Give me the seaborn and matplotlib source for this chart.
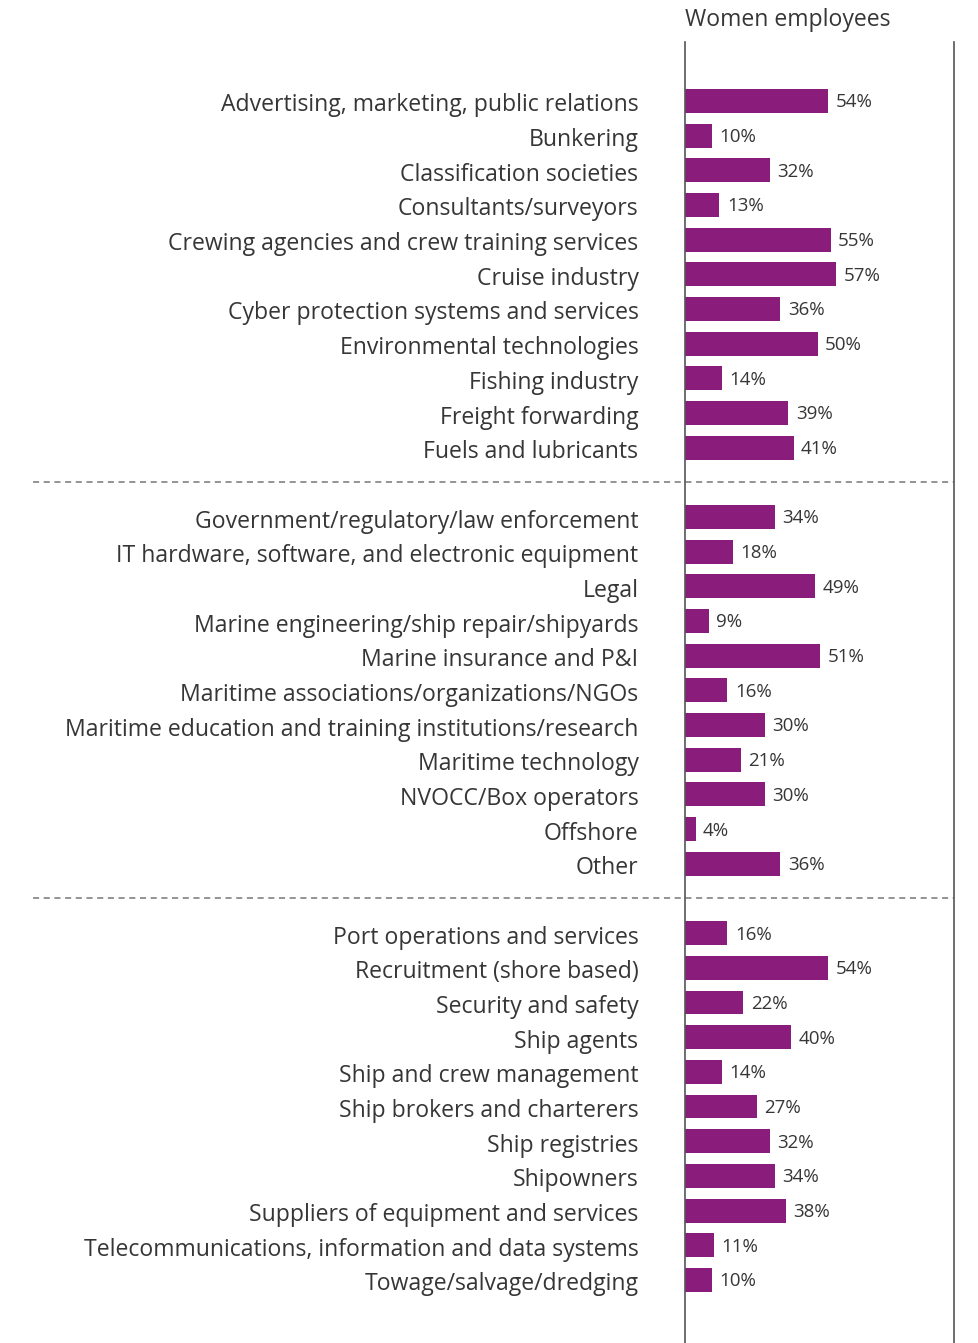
import matplotlib
matplotlib.use("Agg")
import matplotlib.pyplot as plt
import matplotlib.transforms as mtransforms
import seaborn as sns
import numpy as np
import pandas as pd

group_a = [
    "Advertising, marketing, public relations",
    "Bunkering",
    "Classification societies",
    "Consultants/surveyors",
    "Crewing agencies and crew training services",
    "Cruise industry",
    "Cyber protection systems and services",
    "Environmental technologies",
    "Fishing industry",
    "Freight forwarding",
    "Fuels and lubricants",
]
values_a = [54, 10, 32, 13, 55, 57, 36, 50, 14, 39, 41]

group_b = [
    "Government/regulatory/law enforcement",
    "IT hardware, software, and electronic equipment",
    "Legal",
    "Marine engineering/ship repair/shipyards",
    "Marine insurance and P&I",
    "Maritime associations/organizations/NGOs",
    "Maritime education and training institutions/research",
    "Maritime technology",
    "NVOCC/Box operators",
    "Offshore",
    "Other",
]
values_b = [34, 18, 49, 9, 51, 16, 30, 21, 30, 4, 36]

group_c = [
    "Port operations and services",
    "Recruitment (shore based)",
    "Security and safety",
    "Ship agents",
    "Ship and crew management",
    "Ship brokers and charterers",
    "Ship registries",
    "Shipowners",
    "Suppliers of equipment and services",
    "Telecommunications, information and data systems",
    "Towage/salvage/dredging",
]
values_c = [16, 54, 22, 40, 14, 27, 32, 34, 38, 11, 10]

title = "Women employees"

groups = [(group_a, values_a), (group_b, values_b), (group_c, values_c)]

# Build row positions with one empty slot between groups
rows = []
pos = 0
separators = []
for gi, (labels, vals) in enumerate(groups):
    for lab, v in zip(labels, vals):
        rows.append((pos, lab, v))
        pos += 1
    if gi < len(groups) - 1:
        separators.append(pos)
        pos += 1
df = pd.DataFrame(rows, columns=["pos", "sector", "share"])

sns.set_theme(style="white")
plt.rcParams["font.family"] = ["Open Sans", "DejaVu Sans"]

text_color = "#363636"
bar_color = "#8A1C7C"

fig = plt.figure(figsize=(9.79, 13.43), dpi=100)
ax = fig.add_axes([685 / 979, 0.0, (954 - 685) / 979, 1 - 42 / 1343])

sns.barplot(data=df, x="share", y="pos", orient="h", native_scale=True,
            color=bar_color, width=0.69, saturation=1, linewidth=0, ax=ax)

ax.set_xlim(0, 101.5)
ax.set_ylim(pos - 1 + 1.82, -1.7)

ax.set_yticks(df["pos"])
ax.set_yticklabels(df["sector"], fontsize=16.6, color=text_color)
ax.tick_params(axis="y", length=0, pad=33.5)
ax.set_xticks([])
ax.set_xlabel("")
ax.set_ylabel("")

# nudge category labels slightly downward
shift = mtransforms.ScaledTranslation(0, -1.5 / 100, fig.dpi_scale_trans)
for lbl in ax.get_yticklabels():
    lbl.set_transform(lbl.get_transform() + shift)

for spine in ["top", "bottom"]:
    ax.spines[spine].set_visible(False)
for spine in ["left", "right"]:
    ax.spines[spine].set_color("#555555")
    ax.spines[spine].set_linewidth(1.2)

for p, v in zip(df["pos"], df["share"]):
    ax.text(v + 2.8, p + 0.04, f"{v}%", va="center", ha="left",
            fontsize=13.5, color=text_color)

left_frac = (33 - 685) / (954 - 685)
for s in separators:
    ax.axhline(s, xmin=left_frac, xmax=1, color="#777777", lw=1.1,
               ls=(0, (4, 3)), clip_on=False)

fig.text(685 / 979, 1 - 20 / 1343, title, ha="left", va="center",
         fontsize=16.6, color=text_color)

fig.savefig("out.png", dpi=100)
